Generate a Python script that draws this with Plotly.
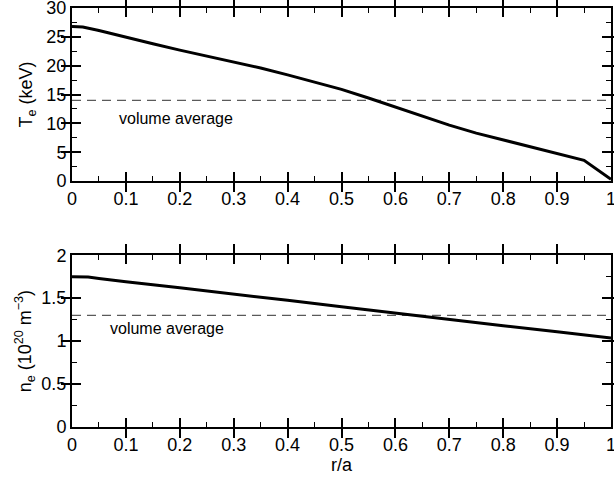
import plotly.graph_objects as go

r = [0.0, 0.02, 0.05, 0.1, 0.15, 0.2, 0.25, 0.3, 0.35, 0.4, 0.45, 0.5, 0.55, 0.6,
     0.65, 0.7, 0.75, 0.8, 0.85, 0.9, 0.95, 1.0]
te = [26.8, 26.7, 26.1, 24.9, 23.8, 22.7, 21.7, 20.7, 19.6, 18.4, 17.2, 15.9, 14.4, 12.8,
      11.2, 9.7, 8.3, 7.1, 5.9, 4.8, 3.6, 0.3]
r_ne = [0.0, 0.03, 0.05, 0.1, 0.2, 0.3, 0.4, 0.5, 0.6, 0.7, 0.8, 0.9, 1.0]
ne = [1.75, 1.745, 1.73, 1.69, 1.62, 1.55, 1.475, 1.40, 1.325, 1.25, 1.18, 1.11, 1.035]
te_avg = 14.0
ne_avg = 1.3
avg_label = "volume average"
te_title = "T<sub>e</sub> (keV)"
ne_title = "n<sub>e</sub> (10<sup>20</sup> m<sup>\u22123</sup>)"
x_title = "r/a"

FONT = "Liberation Sans, Arial, Helvetica, sans-serif"
tick_font = dict(family=FONT, size=18, color="black")
title_font = dict(family=FONT, size=18, color="black")
DASH = dict(color="#5a5a5a", width=1.3, dash="9px,6px")
CURVE = dict(color="black", width=3)

fig = go.Figure()
fig.add_trace(go.Scatter(x=[0, 1], y=[te_avg, te_avg], mode="lines", line=DASH,
                         showlegend=False, hoverinfo="skip", xaxis="x", yaxis="y"))
fig.add_trace(go.Scatter(x=r, y=te, mode="lines", line=CURVE,
                         showlegend=False, xaxis="x", yaxis="y"))
fig.add_trace(go.Scatter(x=[0, 1], y=[ne_avg, ne_avg], mode="lines", line=DASH,
                         showlegend=False, hoverinfo="skip", xaxis="x2", yaxis="y2"))
fig.add_trace(go.Scatter(x=r_ne, y=ne, mode="lines", line=CURVE,
                         showlegend=False, xaxis="x2", yaxis="y2"))

# invisible helpers so that the minor-tick overlay axes get drawn
for xa_, ya_, xs, ys in [("x3", "y", r, te), ("x", "y3", r, te),
                         ("x4", "y2", r_ne, ne), ("x2", "y4", r_ne, ne)]:
    fig.add_trace(go.Scatter(x=xs, y=ys, mode="lines", line=dict(width=0, color="rgba(0,0,0,0)"),
                             opacity=0, showlegend=False, hoverinfo="skip", xaxis=xa_, yaxis=ya_))


def major(anchor, rng, dt, **kw):
    d = dict(anchor=anchor, range=rng, tickmode="linear", tick0=0, dtick=dt,
             showline=True, linecolor="black", linewidth=2, mirror="allticks",
             ticks="inside", ticklen=9, tickwidth=1.5, tickcolor="black",
             showgrid=False, zeroline=False, tickfont=tick_font, automargin=False,
             ticklabeloverflow="allow")
    d.update(kw)
    return d


def minor(anchor, over, rng, dt, side):
    return dict(anchor=anchor, overlaying=over, side=side, range=rng, tickmode="linear",
                tick0=0, dtick=dt, showline=False, mirror="allticks",
                ticks="inside", ticklen=5, tickwidth=1.3, tickcolor="black",
                showticklabels=False, showgrid=False, zeroline=False, automargin=False)


fig.update_layout(
    width=614, height=482,
    margin=dict(l=72, r=3, t=8, b=55),
    plot_bgcolor="white", paper_bgcolor="white",
    xaxis=major("y", [0, 1], 0.1, domain=[0, 1]),
    xaxis2=major("y2", [0, 1], 0.1, domain=[0, 1],
                 title=dict(text=x_title, font=title_font, standoff=4)),
    yaxis=major("x", [0, 30], 5, domain=[0.587, 1.0],
                title=dict(text=te_title, font=title_font, standoff=9)),
    yaxis2=major("x2", [0, 2], 0.5, domain=[0.0, 0.41],
                 title=dict(text=ne_title, font=title_font, standoff=5)),
    xaxis3=minor("y", "x", [0, 1], 0.05, "bottom"),
    yaxis3=minor("x", "y", [0, 30], 2.5, "left"),
    xaxis4=minor("y2", "x2", [0, 1], 0.05, "bottom"),
    yaxis4=minor("x2", "y2", [0, 2], 0.25, "left"),
    annotations=[
        dict(x=0.083, y=10.9, xref="x", yref="y", text=avg_label, showarrow=False,
             xanchor="left", yanchor="middle", font=dict(family=FONT, size=16, color="black")),
        dict(x=0.067, y=1.15, xref="x2", yref="y2", text=avg_label, showarrow=False,
             xanchor="left", yanchor="middle", font=dict(family=FONT, size=16, color="black")),
    ],
)

fig.write_html("out.html", config={"displayModeBar": False},
               post_script="document.body.style.margin='0';document.body.style.overflow='hidden';")
